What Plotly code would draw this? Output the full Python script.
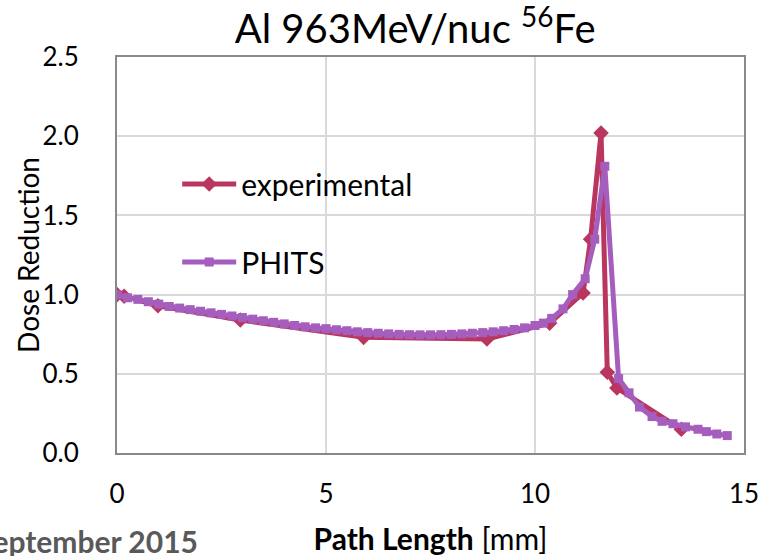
import plotly.graph_objects as go

exp_x = [0.0, 0.17, 0.98, 2.95, 5.9, 8.85, 10.35, 11.15, 11.33, 11.58, 11.73, 11.96, 13.5]
exp_y = [1.0, 0.99, 0.93, 0.84, 0.73, 0.72, 0.82, 1.01, 1.35, 2.02, 0.51, 0.41, 0.15]

phits_x = [0.0, 0.25, 0.5, 0.75, 1.0, 1.25, 1.5, 1.75, 2.0, 2.25, 2.5, 2.75, 3.0, 3.25,
           3.5, 3.75, 4.0, 4.25, 4.5, 4.75, 5.0, 5.25, 5.5, 5.75, 6.0, 6.25, 6.5, 6.75,
           7.0, 7.25, 7.5, 7.75, 8.0, 8.25, 8.5, 8.75, 9.0, 9.25, 9.5, 9.75, 10.0, 10.2,
           10.4, 10.67, 10.9, 11.2, 11.43, 11.67, 12.0, 12.25, 12.5, 12.8, 13.04, 13.3,
           13.6, 13.9, 14.1, 14.35, 14.6]
phits_y = [1.0, 0.98, 0.97, 0.955, 0.94, 0.925, 0.915, 0.905, 0.895, 0.885, 0.875, 0.865,
           0.855, 0.845, 0.835, 0.825, 0.815, 0.805, 0.797, 0.79, 0.785, 0.778, 0.772,
           0.765, 0.76, 0.756, 0.752, 0.749, 0.747, 0.746, 0.746, 0.747, 0.749, 0.752,
           0.756, 0.76, 0.765, 0.772, 0.78, 0.79, 0.805, 0.82, 0.85, 0.91, 1.0, 1.1, 1.35,
           1.81, 0.47, 0.38, 0.29, 0.23, 0.2, 0.185, 0.165, 0.15, 0.135, 0.12, 0.11]

x_ticks = [0, 5, 10, 15]
y_ticks = [0.0, 0.5, 1.0, 1.5, 2.0, 2.5]

FONT = "Lato"
fig = go.Figure()
fig.add_trace(go.Scatter(
    x=exp_x, y=exp_y, mode="lines+markers", name="experimental", legendgroup="a",
    line=dict(color="#B9365F", width=5),
    marker=dict(symbol="diamond", size=12, color="#B9365F"),
))
fig.add_trace(go.Scatter(
    x=phits_x, y=phits_y, mode="lines+markers", name="PHITS", legendgroup="b",
    line=dict(color="#A65EBE", width=5),
    marker=dict(symbol="square", size=9, color="#A65EBE"),
))

fig.update_layout(
    width=763, height=556,
    margin=dict(l=117, r=19, t=57, b=103),
    paper_bgcolor="white", plot_bgcolor="white",
    font=dict(family=FONT, size=26, color="black"),
    title=dict(text="Al 963MeV/nuc <sup>56</sup>Fe", x=0.544, xanchor="center",
               y=0.947, yanchor="middle", font=dict(size=40, family=FONT)),
    legend=dict(x=0.096, y=0.745, xanchor="left", yanchor="top", bgcolor="rgba(0,0,0,0)",
                traceorder="grouped", tracegroupgap=36, itemwidth=54,
                font=dict(size=30)),
    annotations=[
        dict(text="<b>September 2015</b>", xref="paper", yref="paper",
             x=0.132, y=-0.222, xanchor="right", yanchor="middle",
             showarrow=False, font=dict(size=30, color="#595959", family=FONT)),
        dict(text="Dose Reduction", xref="paper", yref="paper", textangle=-90,
             x=-0.142, y=0.5, xanchor="center", yanchor="middle",
             showarrow=False, font=dict(size=28, family=FONT)),
    ],
)
fig.update_xaxes(
    range=[0, 15], tickvals=x_ticks, ticktext=[str(v) for v in x_ticks],
    showgrid=True, gridcolor="#D9D9D9", gridwidth=2, zeroline=False,
    showline=True, linecolor="#898989", linewidth=2, mirror=True,
    ticks="", ticklabelstandoff=17, automargin=False,
    title=dict(text="<b>Path Length</b> [mm]", font=dict(size=30), standoff=22),
)
fig.update_yaxes(
    range=[0, 2.5], tickvals=y_ticks, ticktext=[f"{v:.1f}" for v in y_ticks],
    showgrid=True, gridcolor="#D9D9D9", gridwidth=2, zeroline=False,
    showline=True, linecolor="#898989", linewidth=2, mirror=True,
    ticks="", ticklabelstandoff=31, automargin=False,
)
fig.write_html("out.html")
